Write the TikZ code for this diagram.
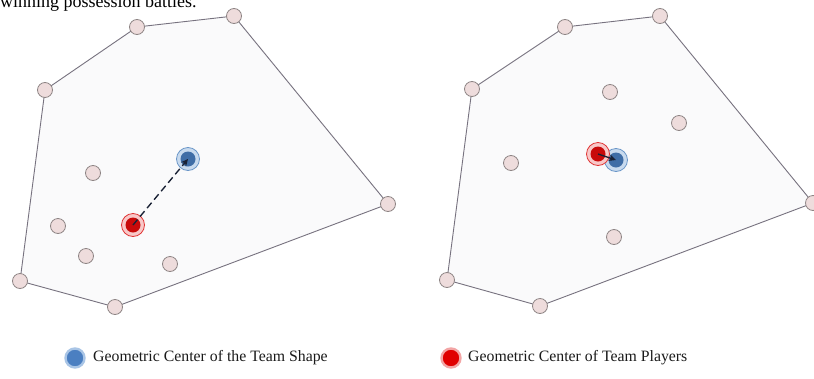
\documentclass[tikz,border=0pt]{standalone}
\usepackage{fontspec}
\setmainfont{Liberation Serif}
\usetikzlibrary{arrows.meta}
\definecolor{hullfill}{HTML}{FAFAFB}
\definecolor{hullline}{HTML}{77727F}
\definecolor{playerfill}{HTML}{EEDCDC}
\definecolor{playerline}{HTML}{8E8585}
\definecolor{bluein}{HTML}{3F6DA6}
\definecolor{blueout}{HTML}{C8DAEE}
\definecolor{bluering}{HTML}{6A96C8}
\definecolor{redin}{HTML}{C80A0A}
\definecolor{redout}{HTML}{F8C8C8}
\definecolor{redring}{HTML}{E03535}
\definecolor{arrowc}{HTML}{1A2235}
\definecolor{legblue}{HTML}{4B7FC1}
\definecolor{legbluering}{HTML}{A9C5E6}
\definecolor{legred}{HTML}{E00000}
\definecolor{legredring}{HTML}{F3A5A5}
\definecolor{textc}{HTML}{1A1A1A}
\tikzset{
  player/.style={circle, draw=playerline, fill=playerfill, line width=0.8pt, minimum size=15pt, inner sep=0pt},
  hull/.style={draw=hullline, fill=hullfill, line width=0.9pt, line join=round},
  shapecenter/.style={circle, draw=bluering, fill=blueout, line width=0.8pt, minimum size=23pt, inner sep=0pt,
    path picture={\fill[bluein] (path picture bounding box.center) circle (7.5pt);}},
  playercenter/.style={circle, draw=redring, fill=redout, line width=0.8pt, minimum size=23pt, inner sep=0pt,
    path picture={\fill[redin] (path picture bounding box.center) circle (7.5pt);}},
  shift arrow/.style={draw=arrowc, line width=1.4pt, -{Stealth[length=7pt,width=6.5pt]}},
  legblue/.style={circle, fill=legblue, draw=legbluering, line width=2.4pt, minimum size=19pt, inner sep=0pt},
  legred/.style={circle, fill=legred, draw=legredring, line width=2.4pt, minimum size=19pt, inner sep=0pt},
  legtext/.style={anchor=west, inner sep=0pt, text=textc, font=\fontsize{15.8}{18}\selectfont},
  toptext/.style={anchor=base west, inner sep=0pt, text=black, font=\fontsize{18}{20}\selectfont}
}
\begin{document}
\begin{tikzpicture}[x=1pt,y=-1pt]
\useasboundingbox (0,0) rectangle (814,378);
\fill[white] (0,0) rectangle (814,378);
\node[toptext] (top) at (0,7) {winning possession battles.};
% left hull
\coordinate (a1) at (45,90);
\coordinate (a2) at (137,27);
\coordinate (a3) at (234,16);
\coordinate (a4) at (388,204);
\coordinate (a5) at (115,307);
\coordinate (a6) at (20,281);
\path[hull] (a1) -- (a2) -- (a3) -- (a4) -- (a5) -- (a6) -- cycle;
\foreach \c in {a1,a2,a3,a4,a5,a6} \node[player] (p\c) at (\c) {};
\node[player] (l1) at (93,173) {};
\node[player] (l2) at (58,226) {};
\node[player] (l3) at (86,256) {};
\node[player] (l4) at (170,264) {};
\node[shapecenter] (lb) at (188,159) {};
\node[playercenter] (lr) at (133,225) {};
\draw[shift arrow, dash pattern=on 7pt off 4pt] (lr.center) -- (lb.center);
% right hull
\coordinate (b1) at (472,89);
\coordinate (b2) at (565,27);
\coordinate (b3) at (660,16);
\coordinate (b4) at (813,203);
\coordinate (b5) at (540,306);
\coordinate (b6) at (447,280);
\path[hull] (b1) -- (b2) -- (b3) -- (b4) -- (b5) -- (b6) -- cycle;
\foreach \c in {b1,b2,b3,b4,b5,b6} \node[player] (p\c) at (\c) {};
\node[player] (r1) at (610,92) {};
\node[player] (r2) at (679,123) {};
\node[player] (r3) at (511,163) {};
\node[player] (r4) at (614,237) {};
\node[shapecenter] (rb) at (616,160) {};
\node[playercenter] (rr) at (598,154) {};
\draw[shift arrow] (rr.center) -- (rb.center);
% legend
\node[legblue] (kb) at (75,358) {};
\node[legtext] (kbt) at (93,358) {Geometric Center of the Team Shape};
\node[legred] (kr) at (451,358) {};
\node[legtext] (krt) at (468,358) {Geometric Center of Team Players};
\end{tikzpicture}
\end{document}
